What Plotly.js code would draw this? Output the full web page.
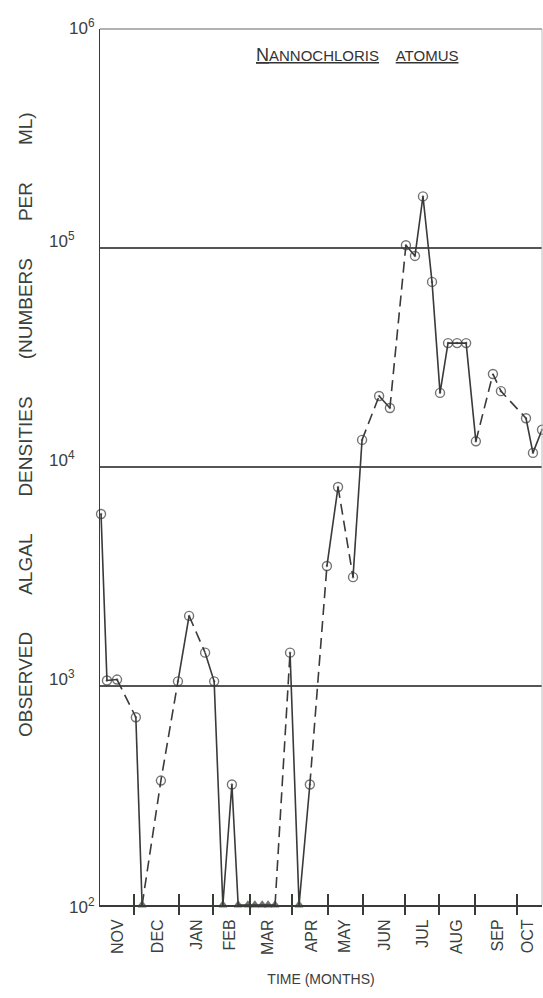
<!DOCTYPE html>
<html>
<head>
<meta charset="utf-8">
<script src="https://cdn.plot.ly/plotly-3.0.1.min.js"></script>
<style>html,body{margin:0;padding:0;background:#fff;}#chart{width:543px;height:998px;}</style>
</head>
<body>
<div id="chart"></div>
<script>
// Time position in months from the start of November (as drawn on the original axis)
const monthPos = [0.03,0.20,0.49,1.03,1.21,1.75,2.24,2.56,3.02,3.28,3.53,3.79,3.97,4.25,4.45,4.66,4.83,5.03,5.46,5.72,6.03,6.52,6.84,7.27,7.53,8.02,8.33,8.79,9.05,9.28,9.54,9.77,10.00,10.26,10.52,10.80,11.29,11.52,12.24,12.44,12.70];
// Observed algal densities (numbers per ml)
const density = [6100,1060,1070,720,100,370,1050,2090,1420,1050,100,355,100,100,100,100,100,100,1420,100,355,3530,8100,3140,13300,21100,18600,103000,92000,172000,70000,21800,36800,36800,36800,13100,26600,22200,16700,11600,14800];
// Marker kind: c = open circle, d = circle with dot, t = below-detection triangle
const markerKind = ["d","d","d","d","t","c","d","d","c","d","t","d","t","t","t","t","t","t","d","t","d","d","d","d","d","d","d","d","d","d","d","d","d","d","d","d","c","d","d","d","d"];
// Line style of the segment joining point i to i+1: s = solid, d = dashed
const segStyle = ["s","s","d","s","d","d","s","d","s","s","s","s","s","s","s","s","s","d","s","s","d","s","d","s","d","s","d","s","s","s","s","s","s","s","s","d","d","d","s","s"];
// Month boundaries and month label positions
const monthBounds = [0.98,2.27,3.25,4.31,5.52,6.55,7.56,8.76,9.74,10.78,11.98];
const monthCenters = [0.52,1.67,2.79,3.74,4.83,6.09,7.04,8.19,9.28,10.26,11.44,12.30];
const monthLabels = ["NOV","DEC","JAN","FEB","MAR","APR","MAY","JUN","JUL","AUG","SEP","OCT"];
const yTickVals = [2,3,4,5,6];
const yTickText = ["10<sup>2</sup>","10<sup>3</sup>","10<sup>4</sup>","10<sup>5</sup>","10<sup>6</sup>"];

const ink = "#383b38";
const FONT = "Liberation Sans, Arial, sans-serif";
const txt = "#3a403c";
const traces = [];

// group consecutive segments of equal style into runs
let i = 0;
while (i < segStyle.length) {
  const st = segStyle[i];
  let j = i;
  while (j + 1 < segStyle.length && segStyle[j + 1] === st) j++;
  traces.push({
    x: monthPos.slice(i, j + 2), y: density.slice(i, j + 2),
    type: "scatter", mode: "lines", cliponaxis: false,
    line: {color: ink, width: 1.6, dash: st === "d" ? "11px,6px" : "solid"},
    hoverinfo: "skip", showlegend: false
  });
  i = j + 1;
}
const symMap = {c: "circle-open", d: "circle-open-dot", t: "triangle-up"};
traces.push({
  x: monthPos, y: density, type: "scatter", mode: "markers", cliponaxis: false,
  marker: {
    symbol: markerKind.map(k => symMap[k]),
    size: markerKind.map(k => k === "t" ? 7 : 9),
    color: ink,
    line: {color: ink, width: 1.4}
  },
  showlegend: false
});
// dummy traces so the boundary-tick axes are drawn
traces.push({x: [monthBounds[0]], y: [1000], xaxis: "x2", type: "scatter", mode: "markers", marker: {opacity: 0}, hoverinfo: "skip", showlegend: false});
traces.push({x: [monthBounds[0]], y: [1000], xaxis: "x3", type: "scatter", mode: "markers", marker: {opacity: 0}, hoverinfo: "skip", showlegend: false});

const xr = [0, 12.70];
const annotations = yTickVals.map((v, k) => ({
  xref: "paper", yref: "y", x: 0, y: v,
  xanchor: "right", yanchor: "middle",
  xshift: (v === 6 || v === 2) ? -3 : -23,
  yshift: v === 6 ? 2 : (v === 2 ? -1 : 8),
  text: yTickText[k], showarrow: false,
  font: {family: FONT, size: 17, color: txt}
}));
annotations.push({
  xref: "paper", yref: "paper", x: (357 - 100) / 442, y: 1 - (55 - 29) / 876,
  xanchor: "center", yanchor: "middle", showarrow: false,
  text: "<u><span style=\"font-size:18px\">N</span>ANNOCHLORIS</u>\u00A0\u00A0\u00A0\u00A0<u>ATOMUS</u>",
  font: {family: FONT, size: 15, color: "#333"}
});
const sp = "\u00A0".repeat(7);
annotations.push({
  xref: "paper", yref: "paper", x: (25 - 100) / 442, y: 1 - (425 - 29) / 876,
  xanchor: "center", yanchor: "middle", textangle: -90, showarrow: false,
  text: "OBSERVED" + sp + "ALGAL" + sp + "DENSITIES" + sp + "(NUMBERS" + sp + "PER" + sp + "ML)",
  font: {family: FONT, size: 19, color: txt}
});

const layout = {
  width: 543, height: 998,
  margin: {l: 100, r: 1, t: 29, b: 93},
  paper_bgcolor: "#fff", plot_bgcolor: "#fff",
  showlegend: false,
  xaxis: {
    range: xr, showgrid: false, zeroline: false,
    showline: true, linecolor: ink, linewidth: 2, mirror: false,
    tickmode: "array", tickvals: monthCenters, ticktext: monthLabels,
    ticks: "", tickangle: -90, ticklabelstandoff: 6,
    tickfont: {family: FONT, size: 16, color: txt},
    title: {text: "TIME (MONTHS)", font: {family: FONT, size: 14, color: txt}, standoff: 20}
  },
  xaxis2: {
    overlaying: "x", anchor: "y", side: "bottom", range: xr,
    showgrid: false, zeroline: false, showline: false,
    tickmode: "array", tickvals: monthBounds, ticks: "outside", ticklen: 9,
    tickwidth: 1.5, tickcolor: ink, showticklabels: false
  },
  xaxis3: {
    overlaying: "x", anchor: "y", side: "bottom", range: xr,
    showgrid: false, zeroline: false, showline: false,
    tickmode: "array", tickvals: monthBounds, ticks: "inside", ticklen: 11,
    tickwidth: 1.5, tickcolor: ink, showticklabels: false
  },
  yaxis: {
    type: "log", range: [2, 6],
    tickmode: "array", tickvals: [1000, 10000, 100000],
    showticklabels: false, ticks: "",
    showgrid: true, gridcolor: "#555", gridwidth: 1.3,
    zeroline: false, showline: true, linecolor: ink, linewidth: 1.5, mirror: false
  },
  shapes: [
    {type: "line", xref: "paper", yref: "paper", x0: 0, x1: 1, y0: 1, y1: 1, line: {color: "#666", width: 1.2}},
    {type: "line", xref: "paper", yref: "paper", x0: 1, x1: 1, y0: 0, y1: 1, line: {color: "#bbb", width: 1}}
  ],
  annotations: annotations
};
Plotly.newPlot("chart", traces, layout, {staticPlot: true});
</script>
</body>
</html>
